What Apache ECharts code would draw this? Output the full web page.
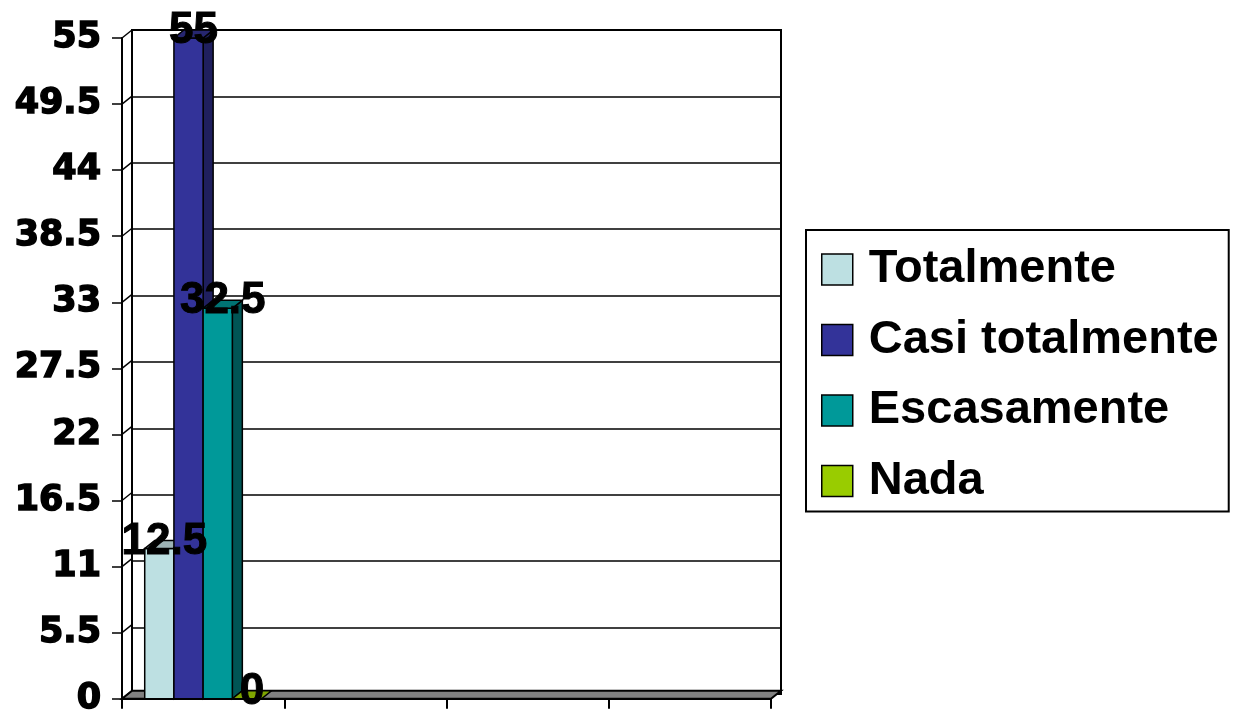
<!DOCTYPE html>
<html>
<head>
<meta charset="utf-8">
<script src="https://cdn.jsdelivr.net/npm/echarts@6/dist/echarts.min.js"></script>
<style>
  html, body { margin: 0; padding: 0; background: #fff; }
  #chart { width: 1233px; height: 717px; }
</style>
</head>
<body>
<div id="chart"></div>
<script>
// datos
const categories = ['1', '2', '3', '4'];
const seriesNames = ['Totalmente', 'Casi totalmente', 'Escasamente', 'Nada'];
const seriesValues = [12.5, 55, 32.5, 0];   // todos en la primera categoría
const yTicks = [0, 5.5, 11, 16.5, 22, 27.5, 33, 38.5, 44, 49.5, 55];

// colores: frente, lado, tapa
const frontColors = ['#BDE0E2', '#333399', '#009999', '#99CC00'];
const sideColors = ['#8FAAAC', '#1F1F5E', '#005555', '#6E9400'];
const topColors = ['#9DB3B5', '#26266F', '#007373', '#7FA600'];

// profundidad 3D
const DX = 10, DY = -8;

const chart = echarts.init(document.getElementById('chart'));

function floorRender(params, api) {
  const cs = params.coordSys;
  const left = cs.x, right = cs.x + cs.width, bottom = cs.y + cs.height;
  const children = [{
    type: 'polygon',
    shape: { points: [[left, bottom], [right, bottom], [right + DX, bottom + DY], [left + DX, bottom + DY]] },
    style: { fill: '#808080', stroke: '#000', lineWidth: 2 }
  }];
  // diagonales de la pared izquierda
  yTicks.forEach(v => {
    const y = api.coord([0, v])[1];
    children.push({
      type: 'line',
      shape: { x1: left, y1: y, x2: left + DX, y2: y + DY },
      style: { stroke: '#000', lineWidth: 1.5 }
    });
  });
  return { type: 'group', children };
}

function barRender(i) {
  return function (params, api) {
    const base = api.coord([api.value(0), 0]);
    const top = api.coord([api.value(0), api.value(1)]);
    const band = api.size([1, 0])[0];
    const w = band * 0.18;
    const x0 = base[0] - 2 * w + i * w;
    const x1 = x0 + w;
    const yt = top[1], yb = base[1];
    const stroke = { stroke: '#000', lineWidth: 1.5 };
    const children = [];
    if (yb - yt > 0.5) {
      children.push({
        type: 'polygon',
        shape: { points: [[x1, yt], [x1 + DX, yt + DY], [x1 + DX, yb + DY], [x1, yb]] },
        style: Object.assign({ fill: sideColors[i] }, stroke)
      });
      children.push({
        type: 'rect',
        shape: { x: x0, y: yt, width: w, height: yb - yt },
        style: Object.assign({ fill: frontColors[i] }, stroke)
      });
    }
    children.push({
      type: 'polygon',
      shape: { points: [[x0, yt], [x1, yt], [x1 + DX, yt + DY], [x0 + DX, yt + DY]] },
      style: Object.assign({ fill: topColors[i] }, stroke)
    });
    children.push({
      type: 'text',
      z2: 100,
      style: {
        x: x0 + w / 2 + DX / 2,
        y: yt - 7,
        text: String(api.value(1)),
        align: 'center',
        verticalAlign: 'middle',
        fill: '#000',
        stroke: '#000',
        lineWidth: 1,
        font: 'bold 44px "Liberation Sans", Arial, sans-serif'
      }
    });
    return { type: 'group', children };
  };
}

const barSeries = seriesNames.map((name, i) => ({
  name: name,
  type: 'custom',
  xAxisIndex: 0,
  yAxisIndex: 0,
  itemStyle: { color: frontColors[i] },
  data: [[0, seriesValues[i]]],
  renderItem: barRender(i)
}));

const option = {
  backgroundColor: '#fff',
  animation: false,
  legend: {
    data: seriesNames,
    orient: 'vertical',
    left: 806,
    top: 230,
    padding: [16, 10, 7, 15],
    borderColor: '#000',
    borderWidth: 2,
    icon: 'rect',
    itemWidth: 31,
    itemHeight: 31,
    itemGap: 23.5,
    itemStyle: { borderColor: '#000', borderWidth: 1.5 },
    textStyle: {
      fontSize: 47,
      fontWeight: 'bold',
      fontFamily: '"Liberation Sans", Arial, sans-serif',
      color: '#000',
      padding: [0, 0, 0, 11]
    }
  },
  grid: [
    { left: 122, right: 462, top: 38, bottom: 15 },                 // frente
    { left: 132, right: 452, top: 30, bottom: 23, show: true,       // pared del fondo
      borderColor: '#000', borderWidth: 2, backgroundColor: '#fff' }
  ],
  xAxis: [
    { type: 'category', data: categories, gridIndex: 0, boundaryGap: true,
      axisLine: { show: true, lineStyle: { color: '#000', width: 2 } },
      axisTick: { show: true, length: 10, lineStyle: { color: '#000', width: 2 } },
      axisLabel: { show: false } },
    { type: 'category', data: categories, gridIndex: 1, show: false }
  ],
  yAxis: [
    { type: 'value', gridIndex: 0, min: 0, max: 55, interval: 5.5,
      axisLine: { show: true, lineStyle: { color: '#000', width: 2 } },
      axisTick: { show: true, length: 10, lineStyle: { color: '#000', width: 1.5 } },
      splitLine: { show: false },
      axisLabel: { margin: 21, color: '#000', fontSize: 35, fontWeight: 'bold',
        fontFamily: '"DejaVu Sans", sans-serif',
        textBorderColor: '#000', textBorderWidth: 1.5 } },
    { type: 'value', gridIndex: 1, min: 0, max: 55, interval: 5.5,
      axisLine: { show: true, lineStyle: { color: '#000', width: 2 } },
      axisTick: { show: false },
      axisLabel: { show: false },
      splitLine: { show: true, lineStyle: { color: '#000', width: 1.5 } } }
  ],
  series: [
    { name: 'suelo', type: 'custom', xAxisIndex: 0, yAxisIndex: 0, silent: true,
      data: [[0, 0]], renderItem: floorRender }
  ].concat(barSeries)
};

chart.setOption(option);
</script>
</body>
</html>
